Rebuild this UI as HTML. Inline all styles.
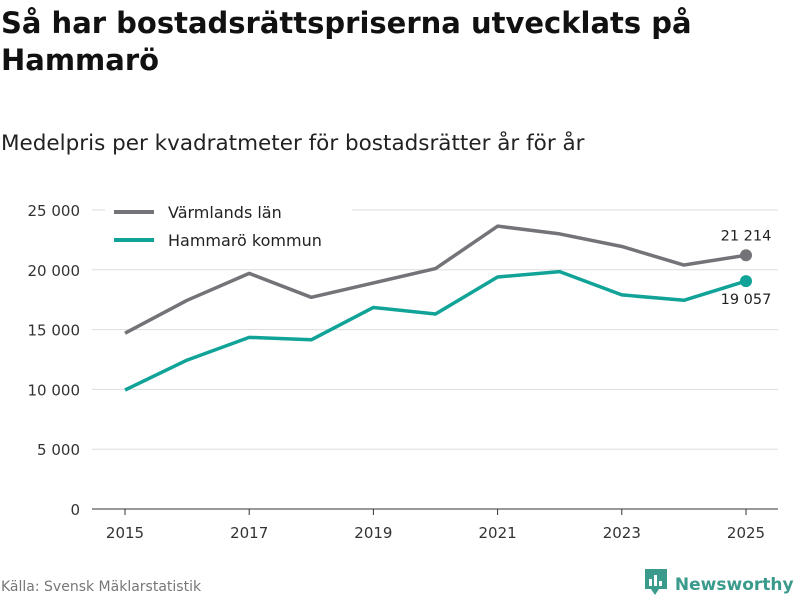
<!DOCTYPE html>
<html><head><meta charset="utf-8"><style>
body{margin:0;background:#fff;font-family:"DejaVu Sans",sans-serif;}
#wrap{position:relative;width:800px;height:600px;overflow:hidden;}
h1{position:absolute;left:1px;top:5px;margin:0;font-size:29px;line-height:37px;font-weight:bold;color:#111;white-space:nowrap}
.sub{position:absolute;left:1px;top:131px;font-size:21.5px;color:#222;white-space:nowrap}
.src{position:absolute;left:1px;top:579px;font-size:14px;color:#777}
.logo{position:absolute;left:645px;top:569px;font-size:17px;font-weight:bold;color:#3a9a8c;white-space:nowrap}
</style></head><body>
<div id="wrap">
<h1>Så har bostadsrättspriserna utvecklats på<br>Hammarö</h1>
<div class="sub">Medelpris per kvadratmeter för bostadsrätter år för år</div>
<svg id="chart" width="800" height="600" style="position:absolute;left:0;top:0"></svg>
<div class="src">Källa: Svensk Mäklarstatistik</div>
<div class="logo"><svg width="24" height="26" style="vertical-align:-5px"><rect x="0" y="0" width="22" height="20" fill="#3a9a8c"/><polygon points="6,20 14,20 10,26" fill="#3a9a8c"/><rect x="4" y="10" width="3" height="7" fill="#fff"/><rect x="9" y="6" width="3" height="11" fill="#fff"/><rect x="14" y="12" width="3" height="5" fill="#fff"/></svg> Newsworthy</div>
</div>
<script>
const years=[2015,2016,2017,2018,2019,2020,2021,2022,2023,2024,2025];
const varmland=[14700,17450,19700,17700,18900,20100,23650,23000,21950,20400,21214];
const hammaro=[9950,12450,14350,14150,16850,16300,19400,19850,17900,17450,19057];
const yTicks=[0,5000,10000,15000,20000,25000];
const xTicks=[2015,2017,2019,2021,2023,2025];
const svg=document.getElementById('chart');
const NS='http://www.w3.org/2000/svg';
const FF='DejaVu Sans, sans-serif';
const x=v=>125+(v-2015)*62.1;
const y=v=>509-v*0.01196;
const fmt=v=>String(v).replace(/\B(?=(\d{3})+(?!\d))/g,' ');
function mk(t,a){const e=document.createElementNS(NS,t);for(const k in a)e.setAttribute(k,a[k]);svg.appendChild(e);return e;}
yTicks.forEach(v=>{
 const l=mk('line',{x1:92,x2:778,y1:y(v),y2:y(v),stroke:v===0?'#333':'#ddd','stroke-width':1});
 
 
 const t=mk('text',{x:80,y:y(v)+6,'text-anchor':'end','font-size':15,fill:'#333','font-family':FF});
 t.textContent=v===0?'0':(v/1000)+' 000';
 
 
});
xTicks.forEach(v=>{
 const l=mk('line',{x1:x(v),x2:x(v),y1:509,y2:515,stroke:'#333'});
 
 
 const t=mk('text',{x:x(v),y:538,'text-anchor':'middle','font-size':15,fill:'#333','font-family':FF});
 t.textContent=v;
 
 
});
const lg=mk('rect',{x:105,y:196,width:247,height:62,fill:'#fff'});


function series(vals,color,name,labelDy){
 const p=mk('polyline',{points:vals.map((v,i)=>x(years[i])+','+y(v)).join(' '),fill:'none',stroke:color,'stroke-width':3.5,'stroke-linejoin':'round'});
 
 
 const last=vals.length-1;
 const c=mk('circle',{cx:x(years[last]),cy:y(vals[last]),r:6,fill:color});
 
 
 const t=mk('text',{x:x(years[last]),y:y(vals[last])+labelDy,'text-anchor':'middle','font-size':14.5,fill:'#222','font-family':FF});
 t.textContent=fmt(vals[last]);
 
 
}
series(varmland,'#747378','varmland',-15);
series(hammaro,'#11a398','hammaro',23);
[['Värmlands län','#747378',212],['Hammarö kommun','#11a398',240]].forEach(([n,c,yy])=>{
 const l=mk('line',{x1:114,x2:154,y1:yy,y2:yy,stroke:c,'stroke-width':4});
 
 
 const t=mk('text',{x:168,y:yy+6,'font-size':16,fill:'#222','font-family':FF});
 t.textContent=n;
 
 
});
</script>
</body></html>
